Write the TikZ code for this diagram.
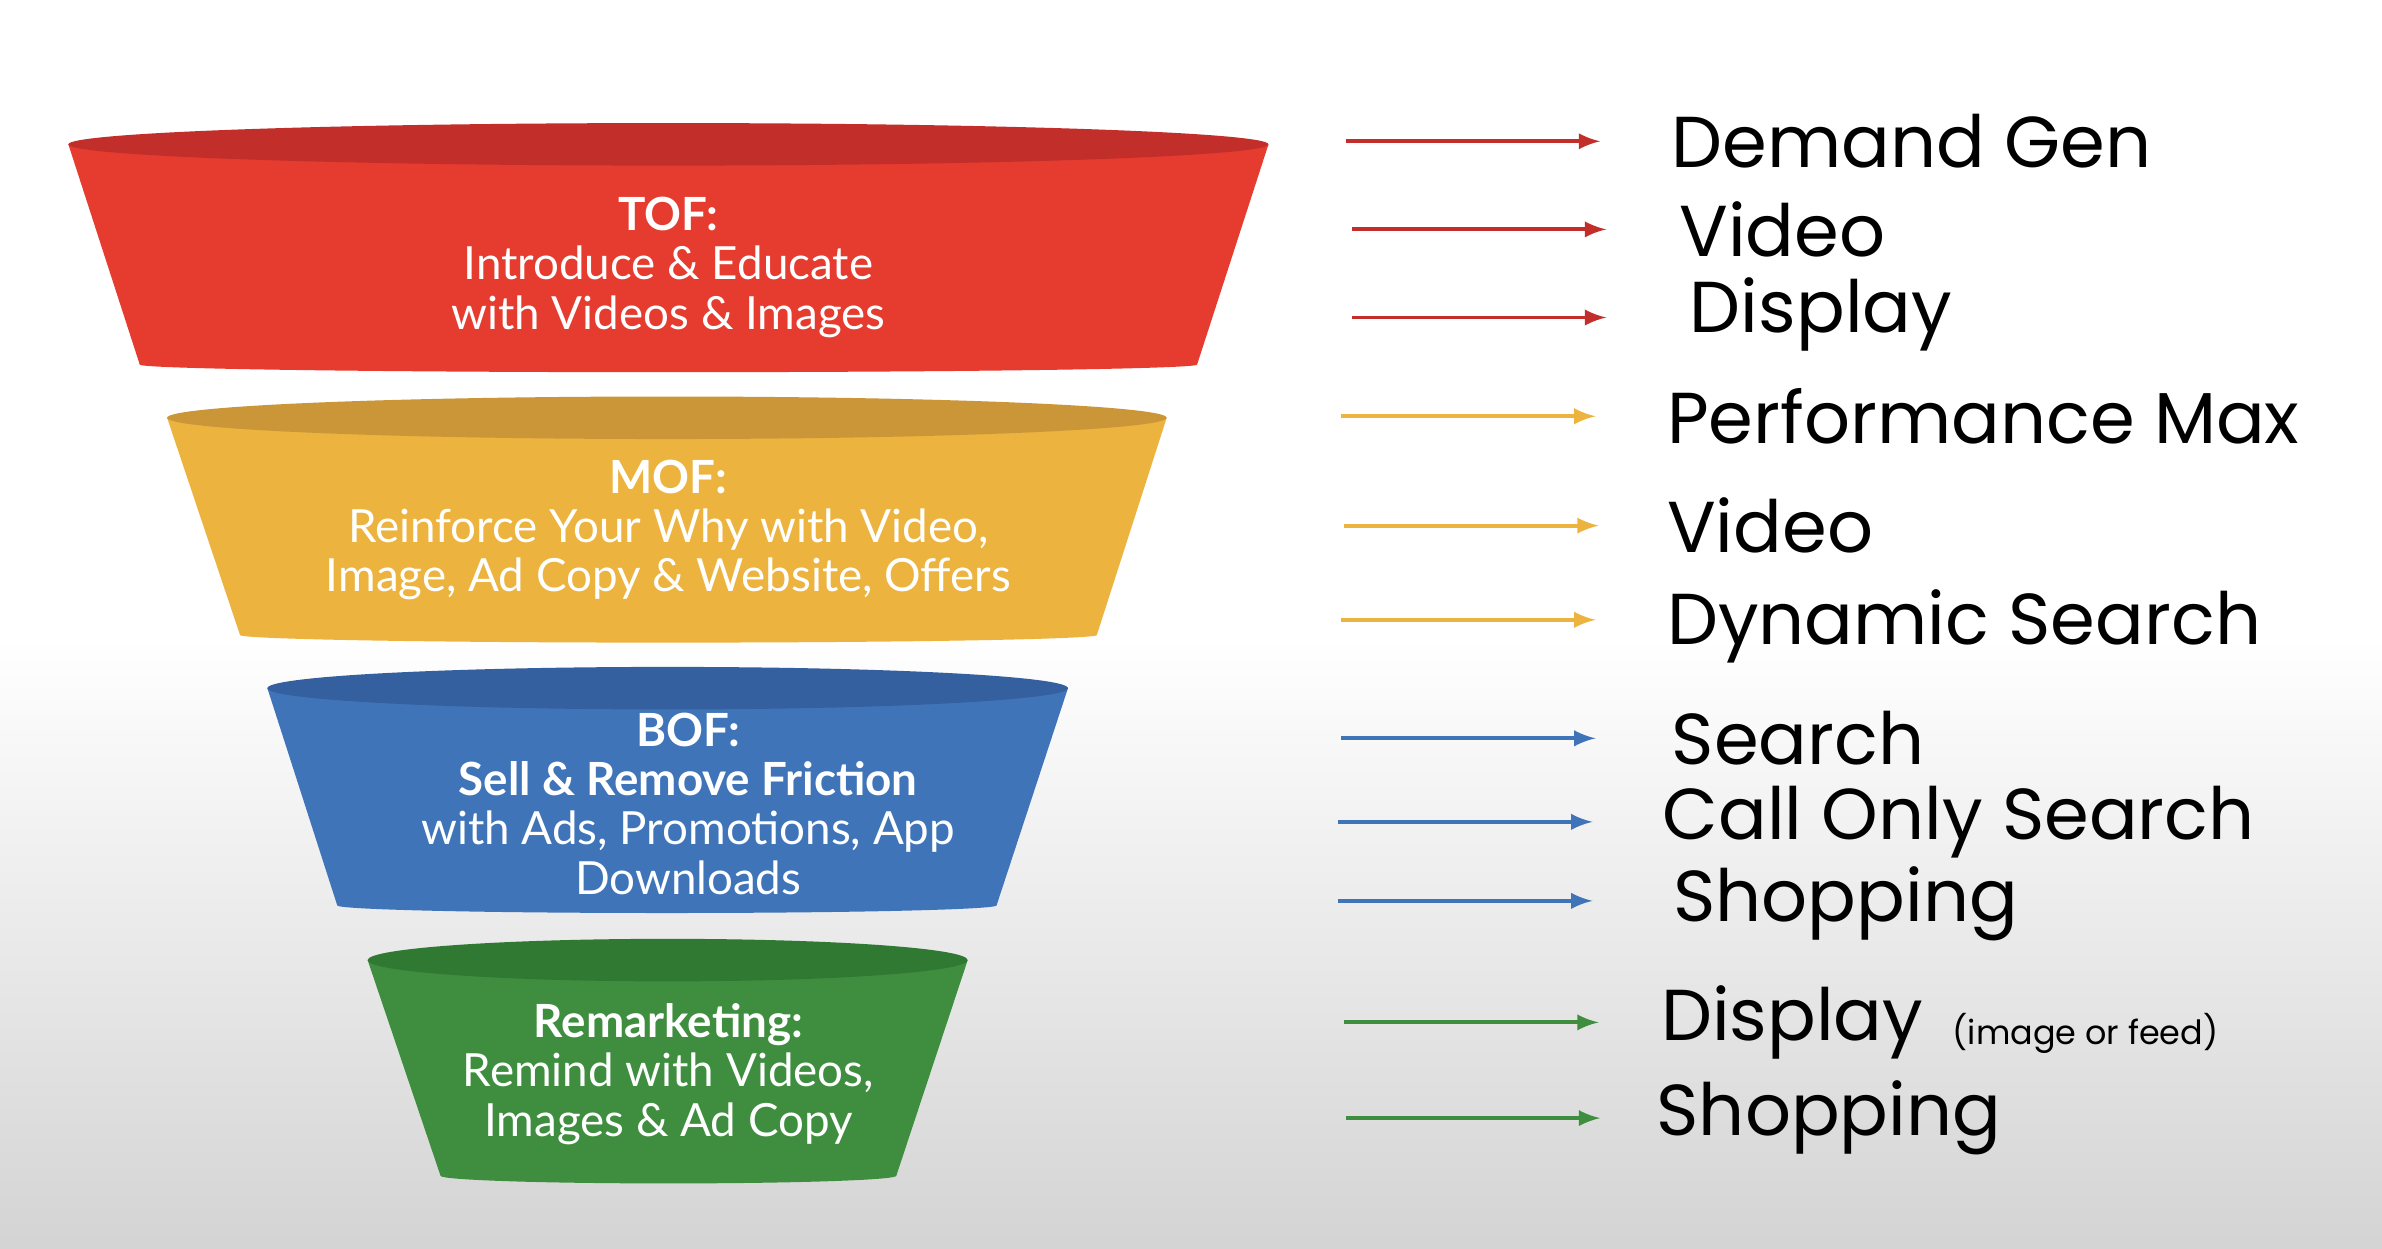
\documentclass[tikz,border=0pt]{standalone}
\usepackage{fontspec}
\setmainfont{Poppins}
\newfontfamily\boxfont{Lato}
\usetikzlibrary{positioning}

\definecolor{tofred}{HTML}{E63B2F}
\definecolor{tofdark}{HTML}{C22F2A}
\definecolor{mofyel}{HTML}{EDB33F}
\definecolor{mofdark}{HTML}{CA9638}
\definecolor{bofblue}{HTML}{4074B9}
\definecolor{bofdark}{HTML}{34609F}
\definecolor{remgreen}{HTML}{3F8E40}
\definecolor{remdark}{HTML}{2F7933}

% one funnel band: ytop, xl, xr, ybot, xbl, xbr, colour, dark colour
\newcommand\funnelband[8]{%
  \fill[#7] (#2,#1) -- (#5,#4) -- (#6,#4) -- (#3,#1) -- cycle;
  \fill[#7] ({(#5+#6)/2},#4) ellipse [x radius={(#6-#5)/2}, y radius=5];
  \fill[#8] ({(#2+#3)/2},#1) ellipse [x radius={(#3-#2)/2}, y radius=14];
}

\begin{document}
\begin{tikzpicture}[x=0.01519cm,y=-0.01519cm]
    \tikzstyle{band}=[text=white,align=center,font=\boxfont\fontsize{13}{14}\selectfont]
    \tikzstyle{channel}=[anchor=west,inner sep=0pt,font=\fontsize{20.5}{22}\selectfont]
    \tikzstyle{feed}=[-latex,line width=1.1pt,shorten >=2pt]

    \useasboundingbox (0,0) rectangle (1568,822);
    \fill[white] (0,0) rectangle (1568,420);
    \shade[top color=white,bottom color=black!17] (0,420) rectangle (1568,822);

    \funnelband{95}{45}{835}{240}{92}{788}{tofred}{tofdark}
    \funnelband{275}{110}{768}{418}{158}{722}{mofyel}{mofdark}
    \funnelband{453}{176}{703}{596}{222}{656}{bofblue}{bofdark}
    \funnelband{632}{242}{637}{774}{290}{590}{remgreen}{remdark}

    \node[band] (tof) at (440,176) {\textbf{TOF:}\\Introduce \& Educate\\with Videos \& Images};
    \node[band] (mof) at (440,349) {\textbf{MOF:}\\Reinforce Your Why with Video,\\Image, Ad Copy \& Website, Offers};
    \node[band] (bof) at (453,529) {\textbf{BOF:}\\\textbf{Sell \& Remove Friction}\\with Ads, Promotions, App\\Downloads};
    \node[band] (rem) at (440,707) {\textbf{Remarketing:}\\Remind with Videos,\\Images \& Ad Copy};

    \node[channel] (demand) at (1100,93) {Demand Gen};
    \node[channel] (video1) at (1105,151) {Video};
    \node[channel] (display1) at (1112,207) {Display};
    \node[channel] (pmax) at (1097,274) {Performance Max};
    \node[channel] (video2) at (1097,346) {Video};
    \node[channel] (dsearch) at (1097,412) {Dynamic Search};
    \node[channel] (search) at (1100,486) {Search};
    \node[channel] (callonly) at (1094,541) {Call Only Search};
    \node[channel] (shop1) at (1101,595) {Shopping};
    \node[channel] (display2) at (1093,673) {Display};
    \node[anchor=west,inner sep=0pt,font=\fontsize{9.5}{11}\selectfont] (imgfeed) at (1285,680) {(image or feed)};
    \node[channel] (shop2) at (1090,736) {Shopping};

    \coordinate (s1) at (886,93);   \coordinate (e1) at (1058,93);
    \coordinate (s2) at (890,151);  \coordinate (e2) at (1062,151);
    \coordinate (s3) at (890,209);  \coordinate (e3) at (1062,209);
    \coordinate (s4) at (883,274);  \coordinate (e4) at (1055,274);
    \coordinate (s5) at (885,346);  \coordinate (e5) at (1057,346);
    \coordinate (s6) at (883,408);  \coordinate (e6) at (1055,408);
    \coordinate (s7) at (883,486);  \coordinate (e7) at (1055,486);
    \coordinate (s8) at (881,541);  \coordinate (e8) at (1053,541);
    \coordinate (s9) at (881,593);  \coordinate (e9) at (1053,593);
    \coordinate (s10) at (885,673); \coordinate (e10) at (1057,673);
    \coordinate (s11) at (886,736); \coordinate (e11) at (1058,736);

    \foreach \a/\c in {1/tofdark,2/tofdark,3/tofdark,4/mofyel,5/mofyel,6/mofyel,
                       7/bofblue,8/bofblue,9/bofblue,10/remgreen,11/remgreen}
        \draw[feed,\c] (s\a) -- (e\a);
\end{tikzpicture}
\end{document}
